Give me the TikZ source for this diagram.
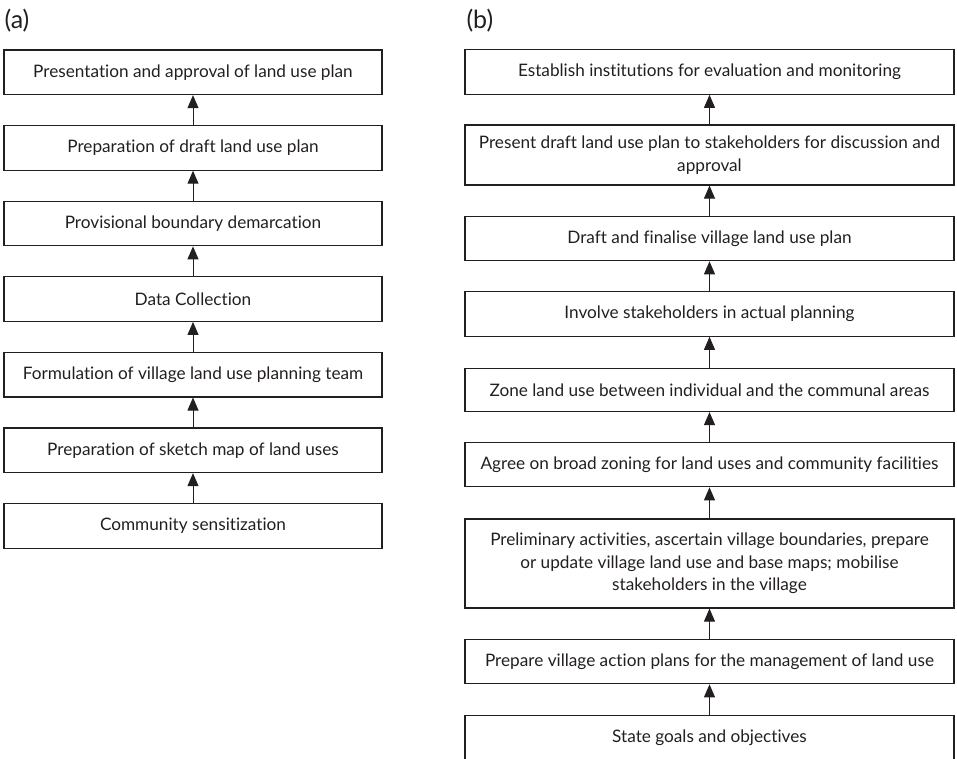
\documentclass[tikz,border=0pt]{standalone}
\usepackage{fontspec}
\setmainfont{Lato}[Ligatures=NoCommon]
\usetikzlibrary{arrows.meta}
\definecolor{ink}{HTML}{231F20}
\begin{document}
\begin{tikzpicture}[x=1pt, y=-1pt, font=\fontsize{17.2}{22.5}\selectfont, color=ink,
    >={Triangle[length=13pt,width=11pt]},
    stepbox/.style={draw, line width=1.2pt, inner sep=0pt, align=center, minimum height=44.5pt},
    abox/.style={stepbox, minimum width=378pt},
    bbox/.style={stepbox, minimum width=489pt}]
    \useasboundingbox (0,0) rectangle (957,759);
    % panel labels
    \node[anchor=west, font=\fontsize{25}{28}\selectfont] (lbla) at (1,21) {(a)};
    \node[anchor=west, font=\fontsize{25}{28}\selectfont] (lblb) at (463,21) {(b)};
    % (a) column
    \foreach \i/\t in {1/{Presentation and approval of land use plan},
                       2/{Preparation of draft land use plan},
                       3/{Provisional boundary demarcation},
                       4/{Data Collection},
                       5/{Formulation of village land use planning team},
                       6/{Preparation of sketch map of land uses},
                       7/{Community sensitization}}
        \node[abox] (a\i) at (193,{72.3+75.6*(\i-1)}) {\t};
    \foreach \i/\j in {1/2,2/3,3/4,4/5,5/6,6/7}\draw[->, line width=1pt] (a\j) -- (a\i);
    % (b) column
    \node[bbox] (b1) at (709.5,72) {Establish institutions for evaluation and monitoring};
    \node[bbox, minimum height=60pt] (b2) at (709.5,155) {Present draft land use plan to stakeholders for discussion and\\approval};
    \node[bbox] (b3) at (709.5,238.5) {Draft and finalise village land use plan};
    \node[bbox] (b4) at (709.5,314) {Involve stakeholders in actual planning};
    \node[bbox, minimum height=43pt] (b5) at (709.5,390) {Zone land use between individual and the communal areas};
    \node[bbox] (b6) at (709.5,464.5) {Agree on broad zoning for land uses and community facilities};
    \node[bbox, minimum height=89pt] (b7) at (709.5,563.5) {Preliminary activities, ascertain village boundaries, prepare\\or update village land use and base maps; mobilise\\stakeholders in the village};
    \node[bbox] (b8) at (709.5,661.5) {Prepare village action plans for the management of land use};
    \node[bbox] (b9) at (709.5,737.5) {State goals and objectives};
    \foreach \i/\j in {1/2,2/3,3/4,4/5,5/6,6/7,7/8,8/9}\draw[->, line width=1pt] (b\j) -- (b\i);
\end{tikzpicture}
\end{document}
